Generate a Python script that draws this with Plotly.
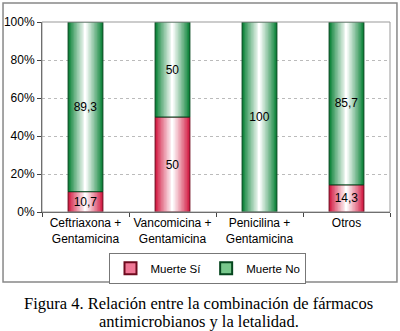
import plotly.graph_objects as go

categories = ["Ceftriaxona +<br>Gentamicina", "Vancomicina +<br>Gentamicina",
              "Penicilina +<br>Gentamicina", "Otros"]
muerte_si = [10.7, 50, 0, 14.3]
muerte_no = [89.3, 50, 100, 85.7]
series_names = ["Muerte Sí", "Muerte No"]
y_ticks = [0, 20, 40, 60, 80, 100]
y_tick_labels = ["0%", "20%", "40%", "60%", "80%", "100%"]

def fmt(v):
    if v == 0:
        return ""
    if float(v).is_integer():
        return str(int(v))
    return f"{v:.1f}".replace(".", ",")

def mix(c1, c2, t):
    return "rgb(%d,%d,%d)" % tuple(round(a + (b - a) * t) for a, b in zip(c1, c2))

FONT = "Arial, Liberation Sans, sans-serif"
fig = go.Figure()
BAR_W = 0.4
N = 12
series = [
    (series_names[0], muerte_si, [0] * 4, (210, 25, 65), (110, 10, 30), (240, 120, 150)),
    (series_names[1], muerte_no, muerte_si, (10, 130, 55), (5, 70, 30), (120, 200, 140)),
]
for name, vals, bases, col, edge, light in series:
    yv = [v if v > 0 else None for v in vals]
    for k in range(N):
        t = k / (N - 1)
        w = BAR_W * (1 - 0.95 * t)
        c = mix(col, (255, 255, 255), t ** 0.9)
        fig.add_trace(go.Bar(
            x=categories, y=yv, base=bases, width=w,
            marker=dict(color=c, line=dict(width=0)),
            showlegend=False, hoverinfo="skip",
        ))
    fig.add_trace(go.Bar(
        x=categories, y=yv, base=bases, width=BAR_W,
        marker=dict(color="rgba(0,0,0,0)", line=dict(width=1, color=mix(edge, edge, 0))),
        text=[fmt(v) for v in vals], textposition="inside", insidetextanchor="middle",
        textfont=dict(family=FONT, size=12, color="black"),
        showlegend=False, hoverinfo="skip",
    ))
    fig.add_trace(go.Scatter(
        x=[None], y=[None], mode="markers", name=name,
        marker=dict(symbol="square", size=7, color=mix(light, light, 0),
                    line=dict(width=1.2, color=mix(edge, edge, 0))),
    ))

fig.update_layout(
    width=400, height=331,
    margin=dict(l=42, r=10, t=22, b=119, autoexpand=False),
    barmode="overlay",
    paper_bgcolor="white", plot_bgcolor="white",
    font=dict(family=FONT, size=11, color="black"),
    showlegend=True,
    legend=dict(orientation="h", x=0.477, xanchor="center", y=-0.215, yanchor="top",
                bordercolor="#777", borderwidth=1, font=dict(size=11.5),
                itemwidth=30, tracegroupgap=0, itemsizing="constant"),
    xaxis=dict(type="category", tickson="boundaries", ticks="outside", ticklen=4,
               tickcolor="#444", showline=True, linecolor="#444", linewidth=1,
               showgrid=False, tickfont=dict(size=12), tickangle=0,
               automargin=False),
    yaxis=dict(range=[0, 100], tickvals=y_ticks, ticktext=y_tick_labels,
               ticks="outside", ticklen=4, tickcolor="#444",
               showline=True, linecolor="#444", linewidth=1,
               showgrid=True, gridcolor="#bbbbbb", griddash="dot", gridwidth=1,
               zeroline=False, tickfont=dict(size=12), automargin=False),
    shapes=[
        dict(type="rect", xref="paper", yref="paper", x0=0, x1=1, y0=0, y1=1,
             line=dict(color="#999", width=1)),
        dict(type="rect", xref="paper", yref="paper", x0=-0.112, x1=1.02, y0=-0.368, y1=1.1,
             line=dict(color="#888", width=1.5)),
    ],
    annotations=[
        dict(text="Figura 4. Relación entre la combinación de fármacos",
             xref="paper", yref="paper", x=0.451, y=-0.479, xanchor="center", yanchor="middle",
             showarrow=False,
             font=dict(family="Liberation Serif, Times New Roman, serif", size=16.5, color="black")),
        dict(text="antimicrobianos y la letalidad.",
             xref="paper", yref="paper", x=0.451, y=-0.574, xanchor="center", yanchor="middle",
             showarrow=False,
             font=dict(family="Liberation Serif, Times New Roman, serif", size=16.5, color="black")),
    ],
)
fig.write_html("out.html", config={"displayModeBar": False},
               post_script="document.body.style.margin='0';")
